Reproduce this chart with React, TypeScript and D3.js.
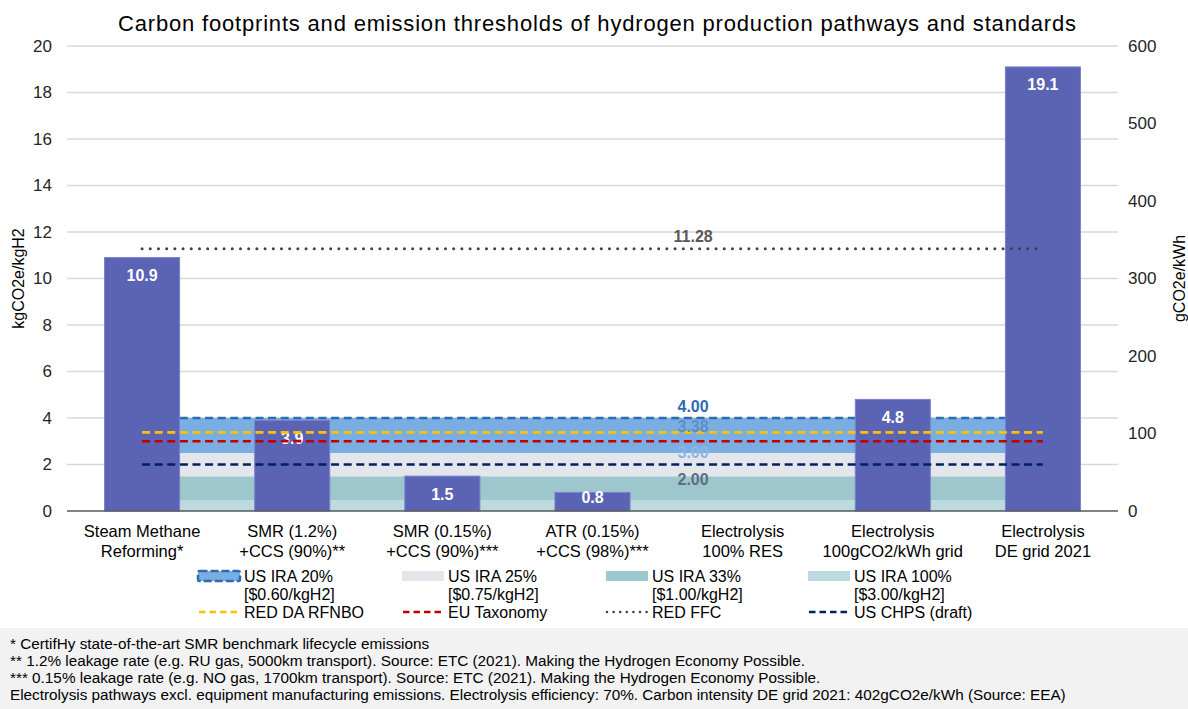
import * as d3 from "d3";
import { FC } from "react";

// pathways on the x axis (two label lines each)
const CATEGORIES: string[] = [
  "Steam Methane|Reforming*",
  "SMR (1.2%)|+CCS (90%)**",
  "SMR (0.15%)|+CCS (90%)***",
  "ATR (0.15%)|+CCS (98%)***",
  "Electrolysis|100% RES",
  "Electrolysis|100gCO2/kWh grid",
  "Electrolysis|DE grid 2021",
];
const FOOTPRINTS: (number | null)[] = [10.9, 3.9, 1.5, 0.8, null, 4.8, 19.1];

// US IRA credit tiers, stacked from the bottom
const IRA_TIERS: string[] = ["US IRA 100%", "US IRA 33%", "US IRA 25%", "US IRA 20%"];
const IRA_CREDITS: string[] = ["[$3.00/kgH2]", "[$1.00/kgH2]", "[$0.75/kgH2]", "[$0.60/kgH2]"];
const IRA_BOUNDS: number[] = [0, 0.45, 1.5, 2.5, 4.0];

// threshold lines
const THRESHOLDS: string[] = ["RED FFC", "US IRA 20%", "RED DA RFNBO", "EU Taxonomy", "US CHPS (draft)"];
const THRESHOLD_VALUES: number[] = [11.28, 4.0, 3.38, 3.0, 2.0];

const LEFT_TICKS: number[] = [0, 2, 4, 6, 8, 10, 12, 14, 16, 18, 20];
const RIGHT_TICKS: number[] = [0, 100, 200, 300, 400, 500, 600];

const LEGEND_ROW1: string[] = ["US IRA 20%", "US IRA 25%", "US IRA 33%", "US IRA 100%"];
const LEGEND_ROW2: string[] = ["RED DA RFNBO", "EU Taxonomy", "RED FFC", "US CHPS (draft)"];

const FOOTNOTES: string[] = [
  "* CertifHy state-of-the-art SMR benchmark lifecycle emissions",
  "** 1.2% leakage rate (e.g. RU gas, 5000km transport). Source: ETC (2021). Making the Hydrogen Economy Possible.",
  "*** 0.15% leakage rate (e.g. NO gas, 1700km transport). Source: ETC (2021). Making the Hydrogen Economy Possible.",
  "Electrolysis pathways excl. equipment manufacturing emissions. Electrolysis efficiency: 70%. Carbon intensity DE grid 2021: 402gCO2e/kWh (Source: EEA)",
];

const TIER_COLORS: Record<string, string> = {
  "US IRA 100%": "#bcdbdf",
  "US IRA 33%": "#9dc6cd",
  "US IRA 25%": "#e4e6ec",
  "US IRA 20%": "#7aaee3",
};
const LINE_STYLE: Record<string, { color: string; dash: string; label: string; dy: number }> = {
  "RED FFC": { color: "#404040", dash: "0 8.2", label: "#595959", dy: -12 },
  "US IRA 20%": { color: "#2e6cb0", dash: "8 4.6", label: "#2e6cb0", dy: -12 },
  "RED DA RFNBO": { color: "#ffc000", dash: "8 4.6", label: "#5e8ec6", dy: -6 },
  "EU Taxonomy": { color: "#c00000", dash: "8 4.6", label: "#8db8e3", dy: 11 },
  "US CHPS (draft)": { color: "#002060", dash: "8 4.6", label: "#5b6e84", dy: 14.5 },
};

const W = 1188;
const H = 709;
const M = { left: 67, right: 1118, top: 46, bottom: 511 };
const FONT = "'Liberation Sans', Arial, sans-serif";

const App: FC = () => {
  const x = d3
    .scaleBand<string>()
    .domain(CATEGORIES)
    .range([M.left, M.right])
    .paddingInner(0.5)
    .paddingOuter(0.25);
  const y = d3.scaleLinear().domain([0, 20]).range([M.bottom, M.top]);
  const yR = d3.scaleLinear().domain([0, 600]).range([M.bottom, M.top]);
  const cx = (c: string) => (x(c) ?? 0) + x.bandwidth() / 2;

  const labelX = cx(CATEGORIES[3]) + x.step() * 0.67;

  const area = (lo: number, hi: number) =>
    d3
      .area<string>()
      .x((c) => cx(c))
      .y0(() => y(lo))
      .y1(() => y(hi))(CATEGORIES) || "";

  const hline = d3
    .line<string>()
    .x((c) => cx(c))
    .y(() => 0);

  const legendX = [198, 402, 606, 808];
  const legendSymbol = (name: string, lx: number, ly: number) => {
    if (TIER_COLORS[name]) {
      return (
        <rect
          x={lx}
          y={ly - 5}
          width={42}
          height={10}
          fill={TIER_COLORS[name]}
          stroke={name === "US IRA 20%" ? LINE_STYLE[name].color : "none"}
          strokeWidth={2.5}
          strokeDasharray={name === "US IRA 20%" ? "8 3" : undefined}
          rx={name === "US IRA 20%" ? 1.5 : 0}
        />
      );
    }
    const s = LINE_STYLE[name];
    return (
      <line
        x1={lx + 1}
        x2={lx + 41}
        y1={ly}
        y2={ly}
        stroke={s.color}
        strokeWidth={name === "RED FFC" ? 2.6 : 2.5}
        strokeDasharray={name === "RED FFC" ? "0 6.6" : "6.5 4"}
        strokeLinecap={name === "RED FFC" ? "round" : "butt"}
      />
    );
  };

  return (
    <svg
      width={W}
      height={H}
      style={{ position: "absolute", left: 0, top: 0, display: "block", background: "#fff" }}
      fontFamily={FONT}
    >
      <text
        x={597}
        y={23}
        textAnchor="middle"
        dominantBaseline="central"
        fontSize={22}
        textLength={958}
        lengthAdjust="spacing"
        fill="#000"
      >
        Carbon footprints and emission thresholds of hydrogen production pathways and standards
      </text>

      {/* grid + left axis */}
      {LEFT_TICKS.map((t) => (
        <g key={"l" + t}>
          {t > 0 && <line x1={M.left} x2={M.right} y1={y(t)} y2={y(t)} stroke="#d9d9d9" strokeWidth={1.3} />}
          <text x={52} y={y(t)} textAnchor="end" dominantBaseline="central" fontSize={17} fill="#262626">
            {t}
          </text>
        </g>
      ))}
      {RIGHT_TICKS.map((t) => (
        <text key={"r" + t} x={1128} y={yR(t)} dominantBaseline="central" fontSize={17} fill="#262626">
          {t}
        </text>
      ))}
      <text
        transform={`translate(18,${(M.top + M.bottom) / 2}) rotate(-90)`}
        textAnchor="middle"
        dominantBaseline="central"
        fontSize={16}
        fill="#000"
      >
        kgCO2e/kgH2
      </text>
      <text
        transform={`translate(1179,${(M.top + M.bottom) / 2}) rotate(-90)`}
        textAnchor="middle"
        dominantBaseline="central"
        fontSize={16}
        fill="#000"
      >
        gCO2e/kWh
      </text>

      {/* IRA tier bands */}
      {IRA_TIERS.map((name, i) => (
        <path key={name} d={area(IRA_BOUNDS[i], IRA_BOUNDS[i + 1])} fill={TIER_COLORS[name]} />
      ))}
      <path
        d={hline(CATEGORIES) || ""}
        transform={`translate(0,${y(THRESHOLD_VALUES[1])})`}
        fill="none"
        stroke={LINE_STYLE["US IRA 20%"].color}
        strokeWidth={2.6}
        strokeDasharray={LINE_STYLE["US IRA 20%"].dash}
      />

      {/* bars */}
      {CATEGORIES.map((c, i) => {
        const v = FOOTPRINTS[i];
        if (v == null) return null;
        return (
          <rect
            key={c}
            x={x(c)}
            y={y(v)}
            width={x.bandwidth()}
            height={y(0) - y(v)}
            fill="#5b63b5"
            stroke="#7a82cc"
            strokeWidth={1}
          />
        );
      })}
      {CATEGORIES.map((c, i) => {
        const v = FOOTPRINTS[i];
        if (v == null) return null;
        return (
          <text
            key={"bl" + c}
            x={cx(c)}
            y={Math.min(y(v) + 18, y(0) - 14)}
            textAnchor="middle"
            dominantBaseline="central"
            fontSize={16}
            fontWeight="bold"
            fill="#fff"
          >
            {v.toFixed(1)}
          </text>
        );
      })}

      {/* threshold lines over the bars */}
      {THRESHOLDS.map((name, i) => {
        if (name === "US IRA 20%") return null;
        const s = LINE_STYLE[name];
        const dotted = name === "RED FFC";
        return (
          <path
            key={"t" + name}
            d={hline(CATEGORIES) || ""}
            transform={`translate(0,${y(THRESHOLD_VALUES[i])})`}
            fill="none"
            stroke={s.color}
            strokeWidth={dotted ? 3 : 2.6}
            strokeDasharray={s.dash}
            strokeLinecap={dotted ? "round" : "butt"}
          />
        );
      })}
      {THRESHOLDS.map((name, i) => (
        <text
          key={"tl" + name}
          x={labelX}
          y={y(THRESHOLD_VALUES[i]) + LINE_STYLE[name].dy}
          textAnchor="middle"
          dominantBaseline="central"
          fontSize={16}
          fontWeight="bold"
          fill={LINE_STYLE[name].label}
        >
          {THRESHOLD_VALUES[i].toFixed(2)}
        </text>
      ))}

      {/* baseline */}
      <line x1={M.left} x2={M.right} y1={y(0)} y2={y(0)} stroke="#595959" strokeWidth={1.6} />

      {/* x labels */}
      {CATEGORIES.map((c) =>
        c.split("|").map((ln, j) => (
          <text
            key={c + j}
            x={cx(c)}
            y={531 + j * 20}
            textAnchor="middle"
            dominantBaseline="central"
            fontSize={16.5}
            fill="#000"
          >
            {ln}
          </text>
        ))
      )}

      {/* legend */}
      {LEGEND_ROW1.map((name, i) => (
        <g key={"lg1" + name}>
          {legendSymbol(name, legendX[i], 576)}
          <text x={legendX[i] + 46} y={576} dominantBaseline="central" fontSize={16} fill="#000">
            {name}
          </text>
          <text x={legendX[i] + 46} y={594} dominantBaseline="central" fontSize={16} fill="#000">
            {IRA_CREDITS[IRA_TIERS.indexOf(name)]}
          </text>
        </g>
      ))}
      {LEGEND_ROW2.map((name, i) => (
        <g key={"lg2" + name}>
          {legendSymbol(name, legendX[i], 612)}
          <text x={legendX[i] + 46} y={612} dominantBaseline="central" fontSize={16} fill="#000">
            {name}
          </text>
        </g>
      ))}

      {/* footnotes */}
      <rect x={0} y={628} width={W} height={H - 628} fill="#f2f2f2" />
      {FOOTNOTES.map((f, i) => (
        <text key={"fn" + i} x={10} y={643 + i * 17} dominantBaseline="central" fontSize={15.3} fill="#000">
          {f}
        </text>
      ))}
    </svg>
  );
};

export default App;
